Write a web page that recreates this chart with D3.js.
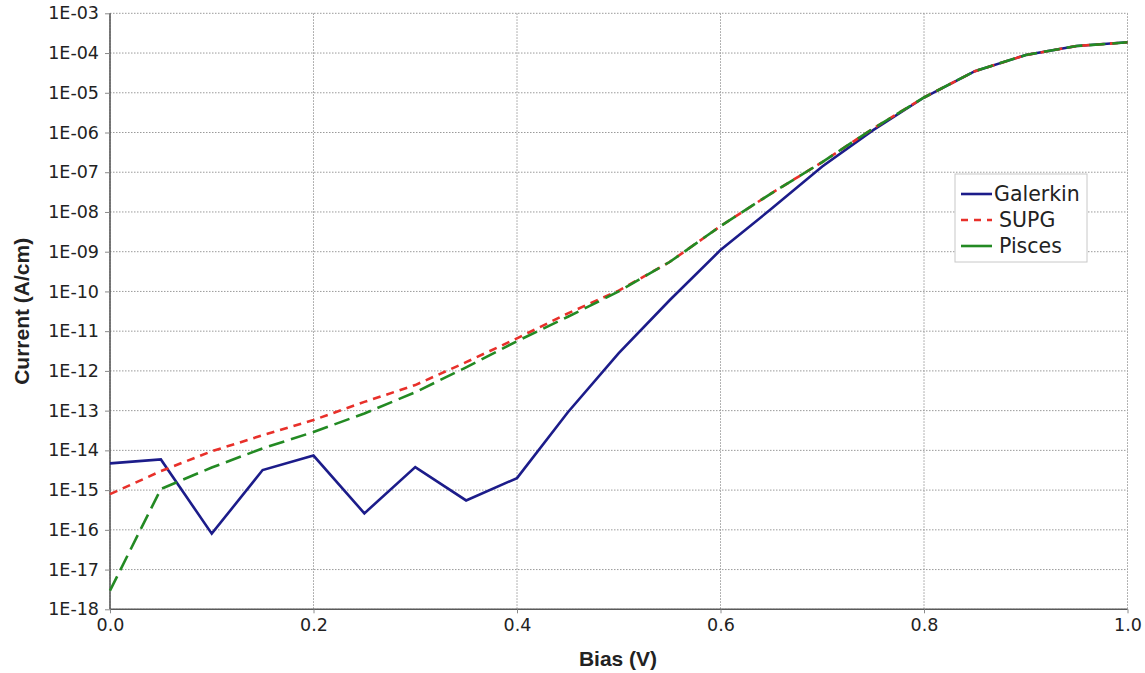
<!DOCTYPE html>
<html>
<head>
<meta charset="utf-8">
<script src="https://cdn.jsdelivr.net/npm/d3@7"></script>
<style>
  body { margin: 0; background: #fff; }
  svg { display: block; }
</style>
</head>
<body>
<div class="content-container"></div>
<script>
    // bias points (V)
    const bias = [0.0, 0.05, 0.1, 0.15, 0.2, 0.25, 0.3, 0.35, 0.4, 0.45, 0.5,
                  0.55, 0.6, 0.65, 0.7, 0.75, 0.8, 0.85, 0.9, 0.95, 1.0];

    // current (A/cm)
    const galerkin = [4.7e-15, 5.9e-15, 8.0e-17, 3.2e-15, 7.4e-15, 2.6e-16, 3.8e-15, 5.5e-16, 2.0e-15, 9.1e-14, 2.8e-12,
                      6.0e-11, 1.1e-9, 1.2e-8, 1.4e-7, 1.15e-6, 7.6e-6, 3.5e-5, 8.9e-5, 1.5e-4, 1.86e-4];
    const supg = [7.9e-16, 3.0e-15, 9.5e-15, 2.4e-14, 5.8e-14, 1.66e-13, 4.4e-13, 1.66e-12, 6.6e-12, 2.8e-11, 1.05e-10,
                  5.5e-10, 4.4e-9, 2.95e-8, 1.8e-7, 1.26e-6, 7.6e-6, 3.5e-5, 8.9e-5, 1.5e-4, 1.86e-4];
    const pisces = [2.95e-18, 1.07e-15, 3.7e-15, 1.12e-14, 2.9e-14, 8.5e-14, 2.9e-13, 1.23e-12, 5.6e-12, 2.3e-11, 1.0e-10,
                    5.5e-10, 4.4e-9, 2.95e-8, 1.8e-7, 1.26e-6, 7.6e-6, 3.5e-5, 8.9e-5, 1.5e-4, 1.86e-4];

    const xTicks = [0.0, 0.2, 0.4, 0.6, 0.8, 1.0];
    const yTicks = [1e-18, 1e-17, 1e-16, 1e-15, 1e-14, 1e-13, 1e-12, 1e-11, 1e-10,
                    1e-9, 1e-8, 1e-7, 1e-6, 1e-5, 1e-4, 1e-3];

    const seriesNames = ["Galerkin", "SUPG", "Pisces"];
    const seriesValues = [galerkin, supg, pisces];
    const seriesColors = ["#1c1c8a", "#e8302a", "#238a23"];
    const seriesDash = [null, "8,6", "16,7"];

    const width = 1145;
    const height = 673;
    const padLeft = 110, padRight = 1127.5, padTop = 13.3, padBottom = 609.3;

    //SCALES

    const xScale = d3.scaleLinear()
                     .domain([0, 1])
                     .range([padLeft, padRight]);

    const yScale = d3.scaleLog()
                     .domain([1e-18, 1e-3])
                     .range([padBottom, padTop]);

    const chart = d3.select(".content-container")
                  .append("svg")
                  .attr("width", width)
                  .attr("height", height);

    //GRID

    const grid = chart.append("g")
      .attr("stroke", "#9a9a9a")
      .attr("stroke-width", 1)
      .attr("stroke-dasharray", "1.5,1.5");

    grid.selectAll(".gy")
      .data(yTicks)
      .enter()
      .append("line")
      .attr("x1", padLeft)
      .attr("x2", padRight)
      .attr("y1", d => yScale(d))
      .attr("y2", d => yScale(d));

    grid.selectAll(".gx")
      .data(xTicks)
      .enter()
      .append("line")
      .attr("x1", d => xScale(d))
      .attr("x2", d => xScale(d))
      .attr("y1", padTop)
      .attr("y2", padBottom);

    //AXES

    const yAxis = d3.axisLeft(yScale)
      .tickValues(yTicks)
      .tickSize(5)
      .tickPadding(6)
      .tickFormat(d => {
        const e = Math.round(Math.log10(d));
        return "1E-" + String(-e).padStart(2, "0");
      });

    const gy = chart.append("g")
      .attr("transform", "translate(" + padLeft + ",0)")
      .call(yAxis);

    const xAxis = d3.axisBottom(xScale)
      .tickValues(xTicks)
      .tickSize(4)
      .tickPadding(5)
      .tickFormat(d3.format(".1f"));

    const gx = chart.append("g")
      .attr("transform", "translate(0," + padBottom + ")")
      .call(xAxis);

    [gx, gy].forEach(g => {
      g.select(".domain").attr("stroke", "#5a5a5a").attr("stroke-width", 1.6);
      g.selectAll(".tick line").attr("stroke", "#8a8a8a");
      g.selectAll(".tick text")
        .attr("fill", "#222")
        .style("font-family", "DejaVu Sans, sans-serif")
        .style("font-size", "17.5px");
    });
    gy.select(".domain").attr("d", "M0," + padTop + "V" + padBottom);
    gx.select(".domain").attr("d", "M" + padLeft + ",0H" + padRight);

    //AXIS TITLES

    chart.append("text")
      .attr("x", 618)
      .attr("y", 666)
      .attr("text-anchor", "middle")
      .style("font-family", "Liberation Sans, Arial, sans-serif")
      .style("font-weight", "bold")
      .style("font-size", "21px")
      .attr("fill", "#222")
      .text("Bias (V)");

    chart.append("text")
      .attr("transform", "translate(29," + (padTop + padBottom) / 2 + ") rotate(-90)")
      .attr("text-anchor", "middle")
      .style("font-family", "Liberation Sans, Arial, sans-serif")
      .style("font-weight", "bold")
      .style("font-size", "21px")
      .attr("fill", "#222")
      .text("Current (A/cm)");

    //LINES

    const line = d3.line()
      .x((d, i) => xScale(bias[i]))
      .y(d => yScale(d));

    seriesValues.forEach((vals, k) => {
      chart.append("path")
        .datum(vals)
        .attr("fill", "none")
        .attr("stroke", seriesColors[k])
        .attr("stroke-width", 2.6)
        .attr("stroke-dasharray", seriesDash[k])
        .attr("d", line);
    });

    //LEGEND

    const legend = chart.append("g")
      .attr("transform", "translate(955,174)");

    legend.append("rect")
      .attr("width", 132)
      .attr("height", 88)
      .attr("fill", "#fff")
      .attr("stroke", "#c8c8c8");

    const items = legend.selectAll(".item")
      .data(seriesNames)
      .enter()
      .append("g")
      .attr("transform", (d, i) => "translate(0," + (20 + i * 26) + ")");

    items.append("line")
      .attr("x1", 6)
      .attr("x2", 37)
      .attr("stroke", (d, i) => seriesColors[i])
      .attr("stroke-width", 2.6)
      .attr("stroke-dasharray", (d, i) => i === 1 ? "7,6" : null);

    items.append("text")
      .attr("x", (d, i) => i === 0 ? 39 : 44)
      .attr("y", 7)
      .style("font-family", "DejaVu Sans, sans-serif")
      .style("font-size", "20.5px")
      .attr("fill", "#222")
      .text(d => d);
</script>
</body>
</html>
